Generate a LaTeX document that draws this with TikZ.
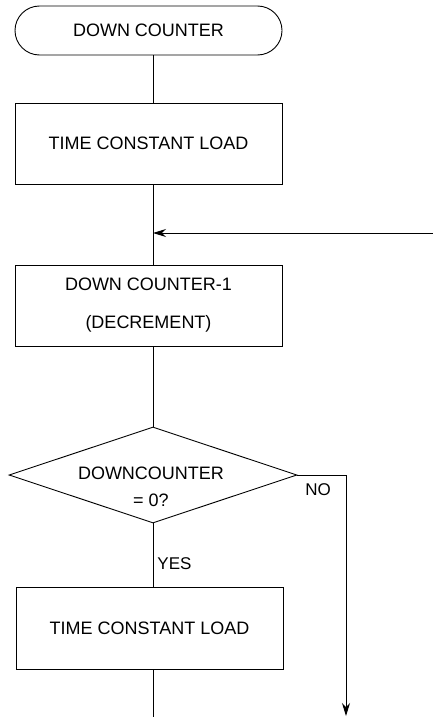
\documentclass[tikz,border=0pt]{standalone}
\usepackage{fontspec}
\setmainfont{Liberation Sans}
\usetikzlibrary{shapes.geometric,shapes.misc,arrows.meta}
\begin{document}
\begin{tikzpicture}[x=1pt,y=1pt,
  every path/.style={line width=0.9pt},
  flow/.style={draw, line width=0.9pt},
  procbox/.style={draw, line width=0.9pt, rectangle, inner sep=0pt, align=center,
    font=\fontsize{18}{38}\selectfont},
  termbox/.style={draw, line width=0.9pt, rounded rectangle, inner sep=0pt,
    font=\fontsize{18}{22}\selectfont},
  decbox/.style={draw, line width=0.9pt, diamond, inner sep=0pt, aspect=3},
  lbl/.style={inner sep=0pt, font=\fontsize{17}{20}\selectfont},
  tip/.style={-{Stealth[length=13pt,width=8pt]}}
]
\useasboundingbox (0,0) rectangle (433,-717);
\coordinate (spine) at (153,0);

\node[termbox, minimum width=267pt, minimum height=49pt] (term) at (148.5,-30.5) {DOWN COUNTER};
\node[procbox, minimum width=267pt, minimum height=81pt] (load1) at (148.5,-143.5) {TIME CONSTANT LOAD};
\node[procbox, minimum width=267pt, minimum height=81pt] (dec) at (148.5,-305.5) {DOWN COUNTER-1\\(DECREMENT)};
\node[decbox, minimum width=288pt, minimum height=96pt] (test) at (153,-475) {};
\node[align=center, inner sep=0pt, font=\fontsize{18}{27}\selectfont] (testtext) at (151,-487) {DOWNCOUNTER\\= 0?};
\node[procbox, minimum width=267pt, minimum height=82pt] (load2) at (149.5,-628) {TIME CONSTANT LOAD};

\node[lbl, anchor=west] (yes) at (157,-564) {YES};
\node[lbl] (no) at (318,-490) {NO};

\coordinate (loopin) at (433,-233);
\coordinate (joint) at (153,-233);
\coordinate (nocorner) at (346,-475);
\coordinate (noend) at (346,-716);
\coordinate (outend) at (153,-717);

\draw[flow] (term.south -| spine) -- (load1.north -| spine);
\draw[flow] (load1.south -| spine) -- (dec.north -| spine);
\draw[flow, tip] (loopin) -- (joint);
\draw[flow] (dec.south -| spine) -- (test.north);
\draw[flow] (test.south) -- (load2.north -| spine);
\draw[flow, tip] (test.east) -- (nocorner) -- (noend);
\draw[flow] (load2.south -| spine) -- (outend);
\end{tikzpicture}
\end{document}
